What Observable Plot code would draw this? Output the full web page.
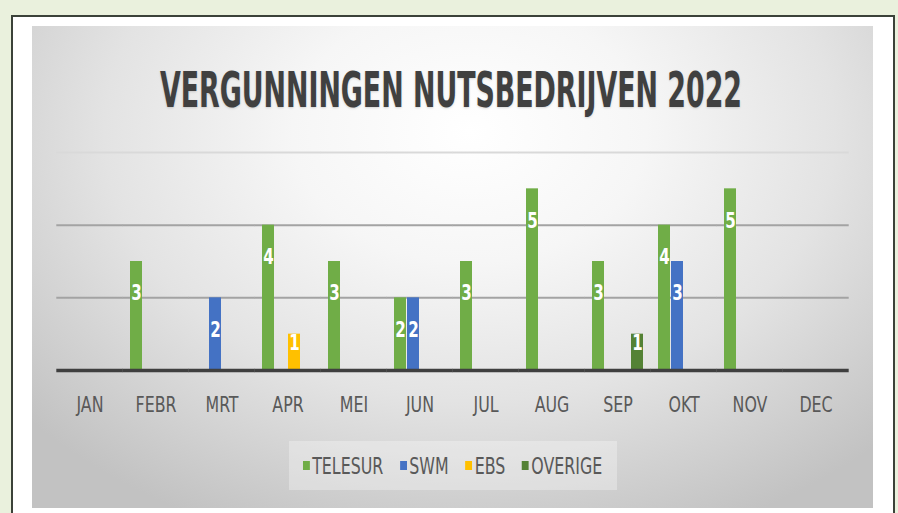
<!DOCTYPE html>
<html><head><meta charset="utf-8">
<script src="https://cdn.jsdelivr.net/npm/d3@7"></script>
<script src="https://cdn.jsdelivr.net/npm/@observablehq/plot@0.6"></script>
<style>
html,body{margin:0;padding:0;}
body{width:898px;height:513px;background:#eaf1dd;position:relative;overflow:hidden;font-family:"Liberation Sans Narrow","DejaVu Sans Condensed",Roboto,sans-serif;}
#panel{position:absolute;left:11px;top:15px;width:884px;height:520px;background:#fff;border:2px solid #3b4239;box-sizing:border-box;}
#chartbg{position:absolute;left:32px;top:26px;width:841px;height:482px;background:radial-gradient(ellipse 70% 90% at 52% 22%, #ffffff 0%, #f6f6f6 30%, #e3e3e3 62%, #c2c2c2 100%);}
#plot{position:absolute;left:0;top:0;}
#title{position:absolute;left:451px;top:62px;font-weight:bold;font-size:50px;line-height:56px;color:#404040;white-space:nowrap;text-shadow:0 1px 3px rgba(0,0,0,0.15);transform-origin:0 0;}
#legend{position:absolute;left:289px;top:441px;width:328px;height:49px;background:rgba(255,255,255,0.3);display:flex;align-items:center;justify-content:center;}
#legin{display:flex;align-items:center;transform-origin:center;white-space:nowrap;flex:none;}
.item{display:flex;align-items:center;color:#595959;font-size:23px;margin:0 11px;}
.sw{width:9px;height:9px;margin-right:3px;}
</style></head>
<body>
<div id="panel"></div>
<div id="chartbg"></div>
<div id="title">VERGUNNINGEN NUTSBEDRIJVEN 2022</div>
<div id="plot"></div>
<div id="legend"><div id="legin"></div></div>
<script>
const months = ["JAN","FEBR","MRT","APR","MEI","JUN","JUL","AUG","SEP","OKT","NOV","DEC"];
const series = ["TELESUR","SWM","EBS","OVERIGE"];
const colors = ["#70AD47","#4472C4","#FFC000","#548235"];
const telesur = [0,3,0,4,3,2,3,5,3,4,5,0];
const swm     = [0,0,2,0,0,2,0,0,0,3,0,0];
const ebs     = [0,0,0,1,0,0,0,0,0,0,0,0];
const overige = [0,0,0,0,0,0,0,0,1,0,0,0];
const gridValues = [2,4];

const table = [telesur, swm, ebs, overige];
const data = [];
months.forEach((m,i) => series.forEach((s,j) => data.push({month:m, series:s, value:table[j][i]})));

const pIn = 0.16;
const ext = -5.7;
const chart = Plot.plot({
  width: 898, height: 513,
  marginLeft: 53, marginRight: 46, marginTop: 152, marginBottom: 143,
  style: {background: "transparent", fontFamily: "'Liberation Sans Narrow','DejaVu Sans Condensed',Roboto,sans-serif", fontSize: "22px", color: "#595959", overflow: "visible"},
  facet: {data, x: "month"},
  fx: {domain: months, paddingInner: pIn, paddingOuter: pIn/2, axis: "bottom", tickSize: 0, tickPadding: 26, label: null},
  x: {domain: series, padding: 0.08, axis: null},
  y: {domain: [0, 6], axis: null},
  color: {domain: series, range: colors},
  marks: [
    Plot.ruleY([6], {stroke: "#d9d9d9", strokeWidth: 2, insetLeft: ext, insetRight: ext}),
    Plot.ruleY(gridValues, {stroke: "#a3a3a3", strokeWidth: 2, insetLeft: ext, insetRight: ext}),
    Plot.barY(data, {x: "series", y: "value", fill: "series"}),
    Plot.ruleY([0], {stroke: "#3f3f3f", strokeWidth: 3.5, insetLeft: ext, insetRight: ext}),
    Plot.text(data, {x: "series", y: d => d.value <= 0 ? NaN : d.value >= 2 ? d.value - 0.88 : d.value - 0.26, text: "value", fill: "white", fontWeight: "bold", fontSize: 21})
  ]
});
document.getElementById("plot").appendChild(chart);

// narrow the plot texts horizontally (condensed look)
d3.select(chart).selectAll("text").each(function(){
  const t = this.getAttribute("transform") || "";
  this.setAttribute("transform", `${t} scale(0.8,1)`);
});

// legend
const lg = d3.select("#legin");
series.forEach((s,i) => {
  const it = lg.append("div").attr("class","item");
  it.append("div").attr("class","sw").style("background", colors[i]);
  it.append("span").text(s);
});
const li = document.getElementById("legin");
li.style.transform = `scaleX(${316 / li.getBoundingClientRect().width})`;

// fit title width, centred at x=451
const t = document.getElementById("title");
const tw = t.getBoundingClientRect().width;
t.style.transform = `scaleX(${582 / tw}) translateX(-50%)`;
</script>
</body></html>
